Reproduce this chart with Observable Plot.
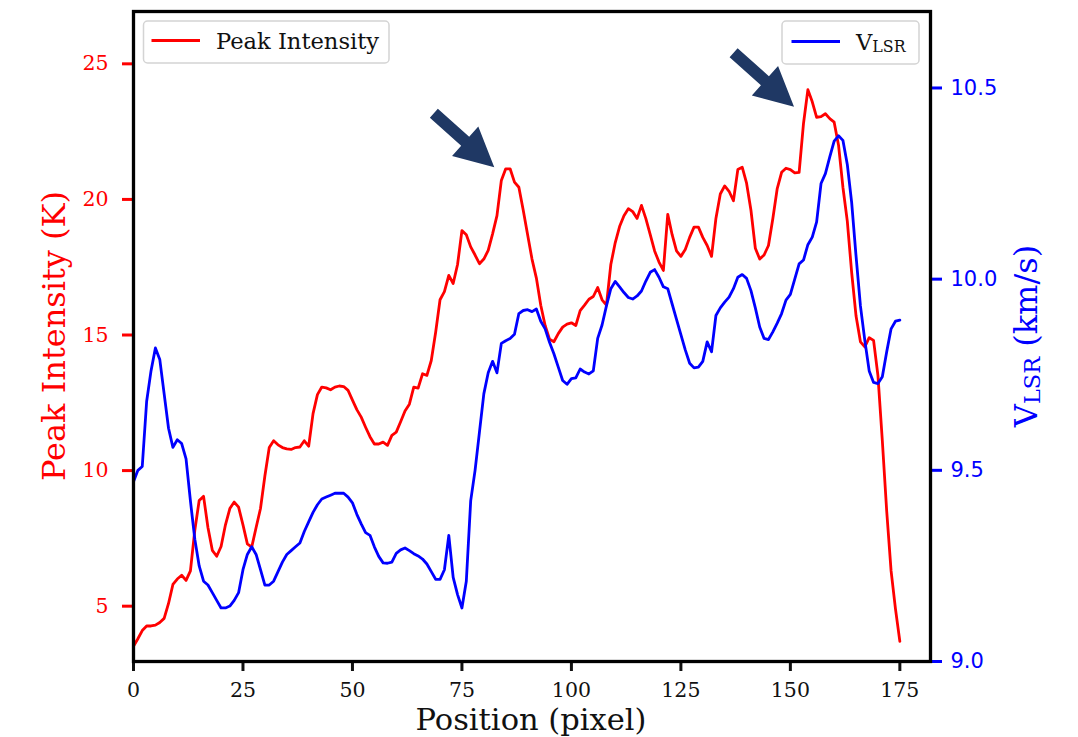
<!DOCTYPE html>
<html><head><meta charset="utf-8">
<script src="https://cdn.jsdelivr.net/npm/d3@7"></script>
<script src="https://cdn.jsdelivr.net/npm/@observablehq/plot@0.6"></script>
<style>
html,body{margin:0;padding:0;background:#fff;}
#chart{width:1078px;height:737px;overflow:hidden;}
</style></head><body><div id="chart"></div>
<script>
// Peak intensity (K) at pixel positions 0..175
const intensity = [3.52,3.8,4.1,4.27,4.27,4.3,4.4,4.55,5.1,5.8,
6.0,6.14,5.95,6.3,7.8,8.9,9.05,7.9,7.06,6.84,
7.2,8.0,8.6,8.84,8.65,8.0,7.3,7.18,7.9,8.6,
9.8,10.85,11.1,10.95,10.85,10.8,10.78,10.85,10.87,11.1,
10.9,12.1,12.8,13.08,13.05,12.98,13.08,13.12,13.1,12.96,
12.6,12.25,11.97,11.6,11.25,10.98,10.98,11.05,10.93,11.3,
11.42,11.8,12.2,12.45,13.08,13.04,13.57,13.51,14.06,15.1,
16.3,16.6,17.2,16.9,17.6,18.85,18.7,18.25,17.95,17.63,
17.8,18.12,18.73,19.4,20.7,21.13,21.13,20.64,20.45,19.6,
18.7,17.8,17.1,16.1,15.35,14.85,14.75,15.05,15.29,15.4,
15.45,15.35,15.9,16.1,16.32,16.42,16.75,16.3,16.1,17.6,
18.4,19.0,19.4,19.66,19.55,19.3,19.78,19.29,18.7,18.1,
17.69,17.38,19.45,18.7,18.1,17.9,18.15,18.6,18.98,18.98,
18.6,18.3,17.9,19.3,20.2,20.5,20.3,19.95,21.1,21.19,
20.6,19.6,18.2,17.8,17.95,18.3,19.3,20.4,21.0,21.15,
21.1,20.98,21.0,22.8,24.05,23.6,23.03,23.05,23.16,22.98,
22.85,22.0,20.45,19.2,17.3,15.7,14.75,14.56,14.9,14.8,
13.5,11.1,8.5,6.3,4.9,3.7];

// V_LSR (km/s) at pixel positions 0..175
const velocity = [9.47,9.50,9.51,9.68,9.76,9.82,9.79,9.70,9.61,9.56,
9.58,9.57,9.53,9.42,9.32,9.25,9.21,9.20,9.18,9.16,
9.14,9.14,9.145,9.16,9.18,9.24,9.28,9.30,9.28,9.24,
9.20,9.20,9.21,9.235,9.26,9.28,9.29,9.30,9.31,9.34,
9.365,9.39,9.41,9.425,9.43,9.435,9.44,9.44,9.44,9.43,
9.415,9.385,9.36,9.337,9.33,9.30,9.275,9.258,9.257,9.26,
9.283,9.292,9.297,9.29,9.282,9.276,9.268,9.255,9.235,9.215,
9.215,9.24,9.33,9.22,9.175,9.14,9.21,9.42,9.50,9.60,
9.70,9.755,9.785,9.755,9.832,9.839,9.845,9.856,9.91,9.918,
9.92,9.915,9.922,9.89,9.87,9.835,9.805,9.77,9.735,9.725,
9.74,9.742,9.765,9.757,9.752,9.76,9.845,9.88,9.93,9.975,
9.994,9.98,9.965,9.952,9.948,9.956,9.969,9.995,10.018,10.025,
10.005,9.98,9.975,9.935,9.895,9.855,9.815,9.78,9.768,9.77,
9.785,9.836,9.81,9.905,9.925,9.94,9.953,9.975,10.005,10.012,
10.002,9.97,9.925,9.875,9.845,9.842,9.862,9.885,9.91,9.945,
9.96,10.0,10.04,10.05,10.09,10.11,10.15,10.25,10.276,10.32,
10.361,10.375,10.363,10.30,10.2,10.06,9.93,9.84,9.76,9.73,
9.727,9.745,9.81,9.87,9.89,9.893];

const positions = intensity.map((_, i) => i);

const xTicks = [0, 25, 50, 75, 100, 125, 150, 175];
const leftTicks = [5, 10, 15, 20, 25];
const rightTicks = [9.0, 9.5, 10.0, 10.5];
const xDomain = [0, 182];
const yDomain = [2.96, 26.93];
const vDomain = [9.0, 10.70];

// annotation arrows: tip location in data coordinates (x, intensity)
const arrowTips = [{x: 82.5, y: 21.17}, {x: 150.95, y: 23.4}];

const toLeft = v => yDomain[0] + (v - vDomain[0]) * (yDomain[1] - yDomain[0]) / (vDomain[1] - vDomain[0]);
const fromLeft = y => vDomain[0] + (y - yDomain[0]) * (vDomain[1] - vDomain[0]) / (yDomain[1] - yDomain[0]);

const redData = intensity.map((v, i) => ({x: positions[i], y: v}));
const blueData = velocity.map((v, i) => ({x: positions[i], y: toLeft(v)}));

const RED = "#ff0000", BLUE = "#0000ff";
const SERIF = "'DejaVu Serif', serif";

const plot = Plot.plot({
  width: 1078, height: 737,
  marginLeft: 133, marginRight: 148, marginTop: 11, marginBottom: 76,
  style: {fontFamily: SERIF, background: "white", overflow: "visible"},
  x: {domain: xDomain},
  y: {domain: yDomain},
  marks: [
    Plot.line(redData, {x: "x", y: "y", stroke: RED, strokeWidth: 2.8}),
    Plot.line(blueData, {x: "x", y: "y", stroke: BLUE, strokeWidth: 2.8}),
    Plot.axisX(xTicks, {tickSize: 10, tickPadding: 11, strokeWidth: 3, fontSize: 20.5, color: "#111", label: null, tickFormat: d => String(d)}),
    Plot.axisY(leftTicks, {anchor: "left", tickSize: 11, tickPadding: 14, strokeWidth: 3, fontSize: 20.5, color: RED, label: null, tickFormat: d => String(d)}),
    Plot.axisY(rightTicks.map(toLeft), {anchor: "right", tickSize: 11, tickPadding: 9, strokeWidth: 3, fontSize: 21, color: BLUE, label: null, fontFamily: "'DejaVu Sans', sans-serif", tickFormat: d => fromLeft(d).toFixed(1)}),
    Plot.frame({stroke: "black", strokeWidth: 3.3})
  ]
});

document.getElementById("chart").appendChild(plot);

const svg = d3.select(plot);
const sx = plot.scale("x"), sy = plot.scale("y");

// axis labels
svg.append("text")
  .attr("transform", "translate(65,336) rotate(-90)")
  .attr("text-anchor", "middle").attr("fill", RED).attr("font-size", 32)
  .attr("font-family", SERIF)
  .text("Peak Intensity (K)");

const rl = svg.append("text")
  .attr("transform", "translate(1037,336) rotate(-90)")
  .attr("text-anchor", "middle").attr("fill", BLUE).attr("font-size", 32)
  .attr("font-family", SERIF);
rl.append("tspan").text("V");
rl.append("tspan").attr("font-size", 22.4).attr("dy", 2.5).text("LSR");
rl.append("tspan").attr("dy", -2.5).text(" (km/s)");

svg.append("text")
  .attr("x", 531).attr("y", 730)
  .attr("text-anchor", "middle").attr("fill", "#111").attr("font-size", 30.5)
  .attr("font-family", SERIF)
  .text("Position (pixel)");

// legends
function legendBox(x, y, w, h) {
  svg.append("rect").attr("x", x).attr("y", y).attr("width", w).attr("height", h)
    .attr("rx", 4).attr("fill", "white").attr("fill-opacity", 0.85)
    .attr("stroke", "#d4d4d4").attr("stroke-width", 1.5);
}
legendBox(143.5, 21, 245.5, 42);
svg.append("line").attr("x1", 151.5).attr("x2", 200).attr("y1", 40.5).attr("y2", 40.5)
  .attr("stroke", RED).attr("stroke-width", 2.8);
svg.append("text").attr("x", 216).attr("y", 48.5).attr("font-size", 22.6)
  .attr("text-anchor", "start")
  .attr("font-family", SERIF).attr("fill", "#111").text("Peak Intensity");

legendBox(782, 21, 137, 43);
svg.append("line").attr("x1", 791.5).attr("x2", 840).attr("y1", 41.5).attr("y2", 41.5)
  .attr("stroke", BLUE).attr("stroke-width", 2.8);
const lt = svg.append("text").attr("x", 856).attr("y", 50).attr("font-size", 22.6)
  .attr("text-anchor", "start")
  .attr("font-family", SERIF).attr("fill", "#111");
lt.append("tspan").text("V");
lt.append("tspan").attr("font-size", 15.8).attr("dy", 1.7).text("LSR");

// block arrows pointing at the peaks
const ux = 0.746, uy = 0.666;      // direction (down-right)
const nx = -uy, ny = ux;           // normal
const L = 81, H = 39, HW = 19.7, SW = 6;
for (const t of arrowTips) {
  const tx = sx.apply(t.x), ty = sy.apply(t.y);
  const bx = tx - H * ux, by = ty - H * uy;
  const ex = tx - L * ux, ey = ty - L * uy;
  const pts = [
    [tx, ty],
    [bx + HW * nx, by + HW * ny],
    [bx + SW * nx, by + SW * ny],
    [ex + SW * nx, ey + SW * ny],
    [ex - SW * nx, ey - SW * ny],
    [bx - SW * nx, by - SW * ny],
    [bx - HW * nx, by - HW * ny]
  ];
  svg.append("polygon").attr("points", pts.map(p => p.join(",")).join(" "))
    .attr("fill", "#1f3864");
}
</script></body></html>
